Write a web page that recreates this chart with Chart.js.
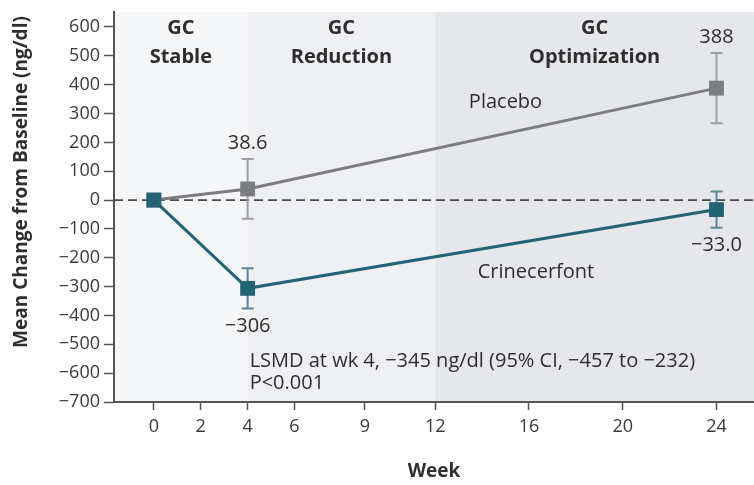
<!DOCTYPE html>
<html><head><meta charset="utf-8">
<script src="https://cdn.jsdelivr.net/npm/chart.js@4/dist/chart.umd.min.js"></script>
<style>html,body{margin:0;padding:0;background:#fff;} #wrap{width:754px;height:485px;}</style>
</head><body><div id="wrap"><canvas id="c" width="754" height="485"></canvas></div>
<script>
// ---- data ----
const weeks = [0, 4, 24];
const placeboMean = [0, 38.6, 388];
const placeboLower = [null, -65, 266];
const placeboUpper = [null, 142, 510];
const placeboValueLabels = [null, '38.6', '388'];
const crineMean = [0, -306, -33.0];
const crineLower = [null, -376, -96];
const crineUpper = [null, -236, 30];
const crineValueLabels = [null, '\u2212306', '\u221233.0'];
const xTickValues = [0, 2, 4, 6, 9, 12, 16, 20, 24];
const yTickValues = [600, 500, 400, 300, 200, 100, 0, -100, -200, -300, -400, -500, -600, -700];
const phaseNames = [['GC', 'Stable'], ['GC', 'Reduction'], ['GC', 'Optimization']];
const phaseBounds = [4, 12]; // week boundaries between phases
const seriesNames = ['Placebo', 'Crinecerfont'];
const seriesNamePos = [[15, 340], [16.3, -252]]; // [week, value]
const noteLines = ['LSMD at wk 4, \u2212345 ng/dl (95% CI, \u2212457 to \u2212232)', 'P<0.001'];
const yTitle = 'Mean Change from Baseline (ng/dl)';
const xTitle = 'Week';

// ---- styles ----
const FONT = "'Open Sans', 'DejaVu Sans', sans-serif";
const TEAL = '#236376', TEAL_LIGHT = '#5b8694';
const GRAY = '#7c7d80', GRAY_LIGHT = '#9d9ea1';
const TEXT = '#2e2e2e';
const phaseColors = ['#f6f7f9', '#eff0f3', '#e5e7ea'];

function fmtY(v) { return v < 0 ? '\u2212' + Math.abs(v) : String(v); }

const bgPlugin = {
  id: 'bg',
  beforeDraw(chart) {
    const {ctx, chartArea: a, scales: {x}} = chart;
    const edges = [a.left, ...phaseBounds.map(b => x.getPixelForValue(b)), a.right];
    ctx.save();
    for (let i = 0; i < phaseColors.length; i++) {
      ctx.fillStyle = phaseColors[i];
      ctx.fillRect(edges[i], a.top, edges[i + 1] - edges[i], a.bottom - a.top);
    }
    // phase headers
    ctx.fillStyle = TEXT;
    ctx.font = "bold 20px " + FONT;
    ctx.textAlign = 'center';
    ctx.textBaseline = 'middle';
    for (let i = 0; i < phaseNames.length; i++) {
      const cx = (edges[i] + edges[i + 1]) / 2;
      ctx.fillText(phaseNames[i][0], cx, 28);
      ctx.fillText(phaseNames[i][1], cx, 57);
    }
    ctx.restore();
  },
  beforeDatasetsDraw(chart) {
    const {ctx, chartArea: a, scales: {x, y}} = chart;
    ctx.save();
    // zero line
    const y0 = y.getPixelForValue(0);
    ctx.strokeStyle = '#4a4a4a';
    ctx.lineWidth = 1.8;
    ctx.setLineDash([9, 5]);
    ctx.beginPath(); ctx.moveTo(a.left, y0); ctx.lineTo(a.right, y0); ctx.stroke();
    ctx.setLineDash([]);
    // error bars
    const sets = [[placeboLower, placeboUpper, GRAY_LIGHT], [crineLower, crineUpper, TEAL_LIGHT]];
    for (const [lo, hi, col] of sets) {
      ctx.strokeStyle = col; ctx.lineWidth = 2;
      weeks.forEach((w, i) => {
        if (lo[i] == null) return;
        const px = x.getPixelForValue(w);
        const pl = y.getPixelForValue(lo[i]), ph = y.getPixelForValue(hi[i]);
        ctx.beginPath();
        ctx.moveTo(px, pl); ctx.lineTo(px, ph);
        ctx.moveTo(px - 6, pl); ctx.lineTo(px + 6, pl);
        ctx.moveTo(px - 6, ph); ctx.lineTo(px + 6, ph);
        ctx.stroke();
      });
    }
    ctx.restore();
  },
  afterDatasetsDraw(chart) {
    const {ctx, chartArea: a, scales: {x, y}} = chart;
    ctx.save();
    ctx.fillStyle = TEXT;
    ctx.font = "20px " + FONT;
    ctx.textAlign = 'center';
    ctx.textBaseline = 'middle';
    weeks.forEach((w, i) => {
      const px = x.getPixelForValue(w);
      if (placeboValueLabels[i]) ctx.fillText(placeboValueLabels[i], px, y.getPixelForValue(placeboUpper[i]) - 16);
      if (crineValueLabels[i]) ctx.fillText(crineValueLabels[i], px, y.getPixelForValue(crineLower[i]) + 18);
    });
    seriesNames.forEach((n, i) => {
      ctx.fillText(n, x.getPixelForValue(seriesNamePos[i][0]), y.getPixelForValue(seriesNamePos[i][1]));
    });
    ctx.textAlign = 'left';
    const nx = x.getPixelForValue(phaseBounds[0]) + 2;
    ctx.fillText(noteLines[0], nx, 361);
    ctx.fillText(noteLines[1], nx, 383);
    // x title
    ctx.font = "bold 19px " + FONT;
    ctx.textAlign = 'center';
    ctx.fillText(xTitle, (a.left + a.right) / 2, 472);
    // y title
    ctx.font = "bold 19px " + FONT;
    ctx.translate(22, 182);
    ctx.rotate(-Math.PI / 2);
    ctx.fillText(yTitle, 0, 0);
    ctx.restore();
  }
};

new Chart(document.getElementById('c'), {
  type: 'line',
  data: {
    datasets: [
      {
        label: seriesNames[1],
        data: weeks.map((w, i) => ({x: w, y: crineMean[i]})),
        borderColor: TEAL, backgroundColor: TEAL,
        borderWidth: 3, pointStyle: 'rect', pointRadius: 10.5, pointBorderWidth: 0
      },
      {
        label: seriesNames[0],
        data: weeks.map((w, i) => ({x: w, y: placeboMean[i]})),
        borderColor: GRAY, backgroundColor: GRAY,
        borderWidth: 3, pointStyle: 'rect', pointRadius: 10.5, pointBorderWidth: 0
      }
    ]
  },
  options: {
    responsive: false,
    devicePixelRatio: 1,
    animation: false,
    layout: {autoPadding: false, padding: {top: 12, right: 0, left: 0, bottom: 0}},
    plugins: {legend: {display: false}, tooltip: {enabled: false}},
    scales: {
      x: {
        type: 'linear', min: -1.7, max: 25.6,
        afterBuildTicks: s => { s.ticks = xTickValues.map(v => ({value: v})); },
        afterFit: s => { s.height = 83; s.paddingLeft = 0; s.paddingRight = 0; },
        grid: {drawOnChartArea: false, tickLength: 8, tickColor: '#555', tickWidth: 1.5},
        border: {display: true, color: '#555', width: 2},
        ticks: {color: '#3a3a3a', font: {family: FONT, size: 18}, padding: 6, maxRotation: 0, autoSkip: false,
                callback: v => String(v)}
      },
      y: {
        type: 'linear', min: -700, max: 652,
        afterBuildTicks: s => { s.ticks = yTickValues.map(v => ({value: v})); },
        afterFit: s => { s.width = 114; s.paddingTop = 0; s.paddingBottom = 0; },
        grid: {drawOnChartArea: false, tickLength: 10, tickColor: '#555', tickWidth: 1.5},
        border: {display: true, color: '#555', width: 2},
        ticks: {color: '#3a3a3a', font: {family: FONT, size: 18}, padding: 4, autoSkip: false, callback: v => fmtY(v)}
      }
    }
  },
  plugins: [bgPlugin]
});
</script></body></html>
